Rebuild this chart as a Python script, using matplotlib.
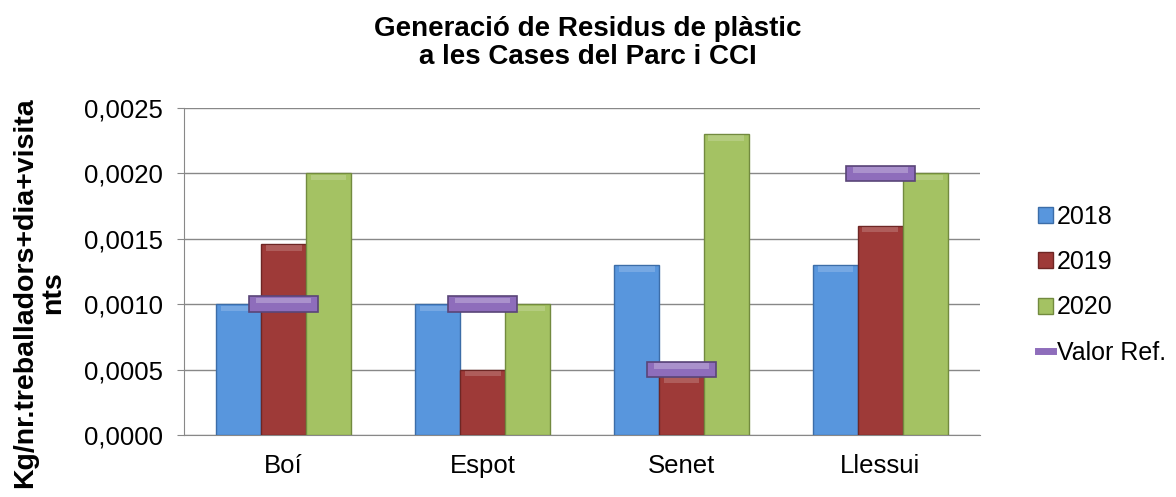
import numpy as np
import matplotlib.pyplot as plt
from matplotlib.patches import Patch
from matplotlib.lines import Line2D
from matplotlib.ticker import FuncFormatter

plt.rcParams['font.family'] = ['Liberation Sans', 'DejaVu Sans']

sites = ['Boí', 'Espot', 'Senet', 'Llessui']
v2018 = [0.0010, 0.0010, 0.0013, 0.0013]
v2019 = [0.00146, 0.0005, 0.00045, 0.0016]
v2020 = [0.0020, 0.0010, 0.0023, 0.0020]
valor_ref = [0.0010, 0.0010, 0.0005, 0.0020]

colors = {'2018': '#5896DD', '2019': '#9E3A38', '2020': '#A4C263'}
edges = {'2018': '#3C6DA8', '2019': '#6E2624', '2020': '#728A3F'}

fig = plt.figure(figsize=(11.76, 4.97), dpi=100)
ax = fig.add_axes([0.1565, 0.1247, 0.6768, 0.658])

x = np.arange(len(sites))
w = 0.226
for off, (lab, vals) in zip([-w, 0, w], [('2018', v2018), ('2019', v2019), ('2020', v2020)]):
    ax.bar(x + off, vals, w, color=colors[lab], edgecolor=edges[lab], linewidth=1.0, zorder=3)
    # light bevel on top of each bar
    ax.bar(x + off, [0.00004] * len(vals), w * 0.8, bottom=np.array(vals) - 0.00005,
           color='white', alpha=0.18, linewidth=0, zorder=4)

# reference value markers
h = 0.00012
ax.bar(x, [h] * len(sites), 0.35, bottom=np.array(valor_ref) - h / 2,
       color='#8E6DBB', edgecolor='#5A4578', linewidth=1.2, zorder=5)
ax.bar(x, [h * 0.35] * len(sites), 0.28, bottom=np.array(valor_ref) + h * 0.05,
       color='white', alpha=0.25, linewidth=0, zorder=6)

ax.set_xlim(-0.5, 3.5)
ax.set_ylim(0, 0.0025)
ax.set_yticks(np.arange(0, 0.00251, 0.0005))
ax.yaxis.set_major_formatter(FuncFormatter(lambda v, p: f'{v:.4f}'.replace('.', ',')))
ax.set_xticks(x)
ax.set_xticklabels(sites)
ax.tick_params(axis='both', labelsize=18.5)
ax.tick_params(axis='x', length=0, pad=14)
ax.tick_params(axis='y', length=5, color='#888888', direction='out', pad=10)
ax.grid(axis='y', color='#888888', linewidth=1.0, zorder=0)
for s in ['top', 'right']:
    ax.spines[s].set_visible(False)
for s in ['left', 'bottom']:
    ax.spines[s].set_color('#888888')

ax.set_ylabel('Kg/nr.treballadors+dia+visita\nnts', fontsize=20.5, fontweight='bold',
              linespacing=1.1)
ax.yaxis.set_label_coords(-0.148, 0.435)
fig.text(0.5, 0.913, 'Generació de Residus de plàstic\na les Cases del Parc i CCI',
         fontsize=20, fontweight='bold', ha='center', va='center', linespacing=1.1)

handles = [Patch(facecolor=colors['2018'], edgecolor=edges['2018'], label='2018'),
           Patch(facecolor=colors['2019'], edgecolor=edges['2019'], label='2019'),
           Patch(facecolor=colors['2020'], edgecolor=edges['2020'], label='2020'),
           Line2D([], [], color='#8E6DBB', linewidth=5, label='Valor Ref.')]
fig.legend(handles=handles, loc='center left', bbox_to_anchor=(0.883, 0.427), frameon=False,
           fontsize=18, handlelength=0.6, handleheight=0.6, handletextpad=0.15,
           labelspacing=0.85, borderpad=0, borderaxespad=0)

fig.savefig('out.png', dpi=100)
